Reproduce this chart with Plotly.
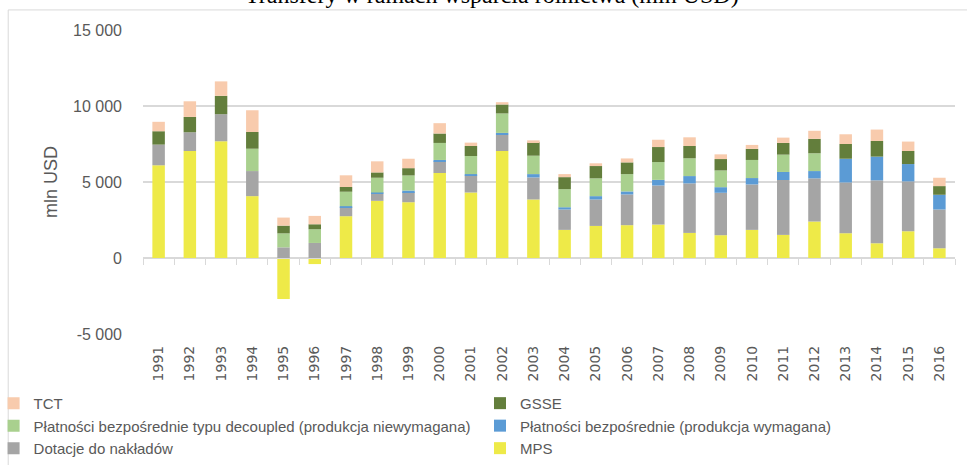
import plotly.graph_objects as go

years = [str(y) for y in range(1991, 2017)]

# wartości w mln USD
mps = [6100, 7040, 7680, 4070, -2700, -400, 2750, 3760, 3670, 5590,
       4310, 7040, 3850, 1850, 2110, 2160, 2200, 1650, 1500, 1850,
       1520, 2400, 1630, 970, 1760, 640]
dotacje = [1360, 1230, 1780, 1650, 700, 990, 590, 480, 660, 770,
           1120, 1060, 1450, 1340, 1740, 2020, 2570, 3260, 2790, 2990,
           3610, 2840, 3340, 4140, 3280, 2550]
platnosci_wym = [0, 0, 0, 0, 0, 0, 70, 70, 110, 90,
                 90, 130, 220, 150, 220, 200, 370, 480, 370, 420,
                 530, 480, 1560, 1560, 1140, 970]
platnosci_decoupled = [0, 0, 0, 1470, 920, 900, 950, 970, 990, 1120,
                       1190, 1280, 1210, 1190, 1170, 1140, 1170, 1170, 1100, 1190,
                       1140, 1170, 0, 0, 0, 0]
gsse = [880, 1010, 1210, 1100, 510, 330, 310, 350, 480, 620,
        660, 590, 900, 790, 810, 770, 990, 810, 750, 730,
        770, 950, 970, 1030, 860, 570]
tct = [620, 1030, 950, 1430, 530, 550, 770, 730, 620, 680,
       220, 150, 110, 200, 180, 260, 480, 570, 310, 260,
       350, 530, 640, 750, 620, 550]

# (nazwa, wartości, kolor, kolumna legendy)
series = [
    ("MPS", mps, "#EEEA48", "legend2"),
    ("Dotacje do nakładów", dotacje, "#A5A5A5", "legend"),
    ("Płatności bezpośrednie (produkcja wymagana)", platnosci_wym, "#5B9BD5", "legend2"),
    ("Płatności bezpośrednie typu decoupled (produkcja niewymagana)", platnosci_decoupled, "#A9D08E", "legend"),
    ("GSSE", gsse, "#637E3C", "legend2"),
    ("TCT", tct, "#F8CBAD", "legend"),
]

grey = "#595959"
grid = "#D9D9D9"

fig = go.Figure()

for name, vals, col, leg in series:
    fig.add_trace(go.Bar(
        x=years, y=vals, name=name, legend=leg,
        marker=dict(color=col, line=dict(width=0)),
    ))

# niewidoczna seria dla osi z kreskami na poziomie zera
fig.add_trace(go.Scatter(x=years, y=[0] * len(years), xaxis="x2", mode="markers",
                         marker=dict(opacity=0), showlegend=False, hoverinfo="skip"))

# ramka wykresu (widoczna tylko z lewej i u góry)
fig.add_shape(type="rect", xref="paper", yref="paper",
              x0=-0.166, y0=-0.6, x1=1.2, y1=1.066,
              line=dict(color=grid, width=1), layer="below")

# tytuł ucięty u góry
fig.add_annotation(text="Transfery w ramach wsparcia rolnictwa (mln USD)",
                   xref="paper", yref="paper", x=0.43, y=1.115,
                   showarrow=False, yanchor="middle",
                   font=dict(family="Liberation Serif", size=24, color="#000000"))

legend_style = dict(
    orientation="v",
    traceorder="reversed",
    xanchor="left", yanchor="top",
    y=-0.174,
    tracegroupgap=0,
    itemwidth=30,
    font=dict(size=15, color=grey),
    bgcolor="rgba(0,0,0,0)",
)

fig.update_layout(
    barmode="relative",
    bargap=0.6,
    width=967, height=465,
    margin=dict(l=143, r=12, t=30, b=131, autoexpand=False),
    paper_bgcolor="white",
    plot_bgcolor="white",
    font=dict(family="Liberation Sans", color=grey),
    xaxis=dict(
        type="category",
        range=[-0.5, 25.5],
        tickangle=-90,
        tickfont=dict(family="DejaVu Sans", size=14, color=grey),
        ticks="",
        ticklabelstandoff=8,
        showgrid=False,
        showline=False,
        zeroline=False,
    ),
    xaxis2=dict(
        type="category",
        overlaying="x",
        anchor="free",
        position=0.25,
        range=[-0.5, 25.5],
        showticklabels=False,
        ticks="outside",
        tickson="boundaries",
        ticklen=6,
        tickcolor=grid,
        showline=True,
        linecolor=grid,
        showgrid=False,
    ),
    yaxis=dict(
        range=[-5000, 15000],
        tickvals=[-5000, 0, 5000, 10000, 15000],
        ticktext=["-5 000", "0", "5 000", "10 000", "15 000"],
        tickfont=dict(size=16, color=grey),
        ticklabelstandoff=20,
        showgrid=True,
        gridcolor=grid,
        gridwidth=1.5,
        zeroline=False,
        title=dict(text="mln USD", font=dict(size=18, color=grey), standoff=10),
    ),
    legend=dict(legend_style, x=-0.184),
    legend2=dict(legend_style, x=0.415),
)

fig.write_html("out.html", config={"displayModeBar": False},
               post_script="document.body.style.margin='0';")
